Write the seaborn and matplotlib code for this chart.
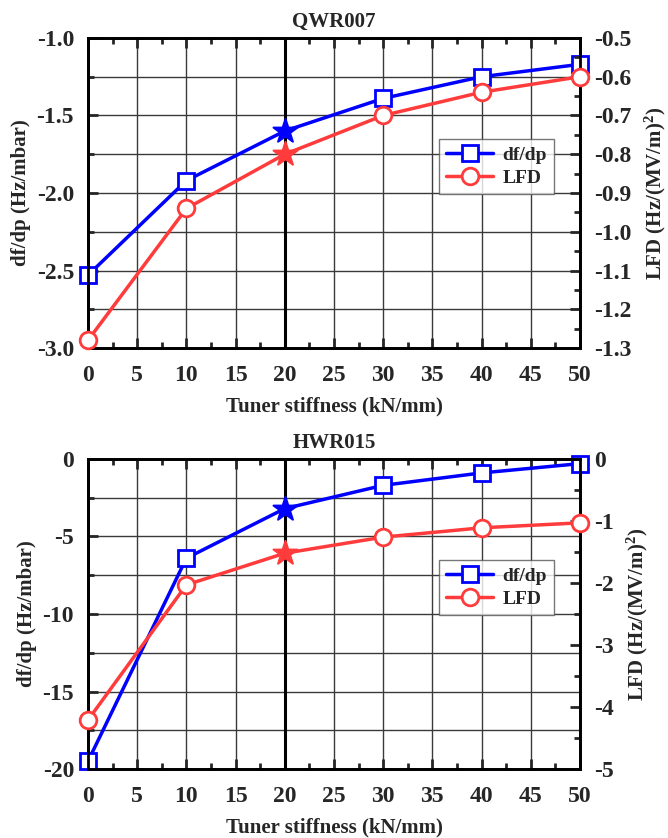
import numpy as np
import pandas as pd
import seaborn as sns
import matplotlib.pyplot as plt
from matplotlib.ticker import MultipleLocator, FormatStrFormatter

# stiffness values (kN/mm)
stiffness = [0, 10, 20, 30, 40, 50]

# QWR007
qwr_dfdp = [-2.53, -1.92, -1.60, -1.39, -1.25, -1.17]
qwr_lfd = [-1.28, -0.94, -0.80, -0.70, -0.64, -0.60]

# HWR015
hwr_dfdp = [-19.5, -6.4, -3.2, -1.7, -0.9, -0.3]
hwr_lfd = [-4.21, -2.03, -1.52, -1.26, -1.11, -1.03]

titles = ["QWR007", "HWR015"]
star_x = 20

sns.set_style("white")
plt.rcParams["font.family"] = ["Liberation Serif", "DejaVu Serif"]
plt.rcParams["font.weight"] = "bold"
plt.rcParams["mathtext.fontset"] = "custom"
plt.rcParams["mathtext.rm"] = "Liberation Serif:bold"
plt.rcParams["mathtext.default"] = "rm"

BLUE = "#0000ff"
RED = "#ff3b3b"

fig = plt.figure(figsize=(6.68, 8.38), dpi=100)
ax_top = fig.add_axes([0.1317, 0.5847, 0.7365, 0.370])
ax_bot = fig.add_axes([0.1317, 0.0823, 0.7365, 0.370])

panels = [
    (ax_top, qwr_dfdp, qwr_lfd, (-3.0, -1.0), 0.5, 0.25, (-1.3, -0.5), 0.1, 0.05, "%.1f", "%.1f"),
    (ax_bot, hwr_dfdp, hwr_lfd, (-20, 0), 5, 2.5, (-5, 0), 1, 0.5, "%d", "%d"),
]

for i, (ax, dfdp, lfd, ylim, ymaj, ymin, y2lim, y2maj, y2min, fmt1, fmt2) in enumerate(panels):
    df = pd.DataFrame({"x": stiffness, "dfdp": dfdp, "lfd": lfd})
    not_star = [k for k, v in enumerate(stiffness) if v != star_x]
    star = [k for k, v in enumerate(stiffness) if v == star_x]

    ax2 = ax.twinx()

    # grid and the thick marker line at 20 kN/mm
    ax.set_axisbelow(True)
    ax.grid(True, which="major", axis="x", color="#3a3a3a", lw=1.0)
    ax.grid(True, which="both", axis="y", color="#3a3a3a", lw=1.0)
    ax.axvline(star_x, color="black", lw=2.2, zorder=1)

    sns.lineplot(data=df, x="x", y="dfdp", ax=ax, color=BLUE, lw=2.5,
                 marker="s", markevery=not_star, ms=11, mfc="white", mec=BLUE,
                 mew=2, label="df/dp", legend=False, zorder=3, clip_on=False)
    sns.scatterplot(data=df.iloc[star], x="x", y="dfdp", ax=ax, color=BLUE,
                    marker="*", s=330, edgecolor=BLUE, legend=False, zorder=4)

    sns.lineplot(data=df, x="x", y="lfd", ax=ax2, color=RED, lw=2.5,
                 marker="o", markevery=not_star, ms=12, mfc="white", mec=RED,
                 mew=2, label="LFD", legend=False, zorder=3, clip_on=False)
    sns.scatterplot(data=df.iloc[star], x="x", y="lfd", ax=ax2, color=RED,
                    marker="*", s=330, edgecolor=RED, legend=False, zorder=4)

    ax.set_xlim(0, 50)
    ax.set_ylim(*ylim)
    ax2.set_ylim(*y2lim)
    ax.xaxis.set_major_locator(MultipleLocator(5))
    ax.xaxis.set_minor_locator(MultipleLocator(2.5))
    ax.yaxis.set_major_locator(MultipleLocator(ymaj))
    ax.yaxis.set_minor_locator(MultipleLocator(ymin))
    ax.yaxis.set_major_formatter(FormatStrFormatter(fmt1))
    ax2.yaxis.set_major_locator(MultipleLocator(y2maj))
    ax2.yaxis.set_minor_locator(MultipleLocator(y2min))
    ax2.yaxis.set_major_formatter(FormatStrFormatter(fmt2))

    ax.tick_params(axis="x", which="both", direction="in", top=True, bottom=True,
                   labelsize=17, pad=12)
    ax.tick_params(axis="y", which="both", direction="in", left=True, right=False,
                   labelsize=17, pad=10)
    ax2.tick_params(axis="y", which="both", direction="in", right=True,
                    labelsize=17, pad=10)
    for a in (ax, ax2):
        a.tick_params(which="major", length=7, width=2)
        a.tick_params(which="minor", length=4, width=2)
        for s in a.spines.values():
            s.set_linewidth(2)
            s.set_color("black")

    ax.set_xlabel("Tuner stiffness (kN/mm)", fontsize=15, fontweight="bold", labelpad=8)
    ax.set_ylabel("df/dp (Hz/mbar)", fontsize=15, fontweight="bold", labelpad=4)
    ax2.set_ylabel("LFD (Hz/(MV/m)$^2$)", fontsize=15, fontweight="bold", labelpad=8)
    ax.set_title(titles[i], fontsize=15, fontweight="bold", pad=8)

    h1, l1 = ax.get_legend_handles_labels()
    h2, l2 = ax2.get_legend_handles_labels()
    leg = ax2.legend(h1 + h2, l1 + l2, loc="center right", bbox_to_anchor=(0.947, 0.585),
                     borderaxespad=0, fontsize=14, handlelength=2.4, frameon=True,
                     fancybox=False, borderpad=0.35, labelspacing=0.3, handletextpad=0.5)
    leg.get_frame().set_edgecolor("#555555")
    leg.get_frame().set_linewidth(1.0)

fig.savefig("out.png", dpi=100)
